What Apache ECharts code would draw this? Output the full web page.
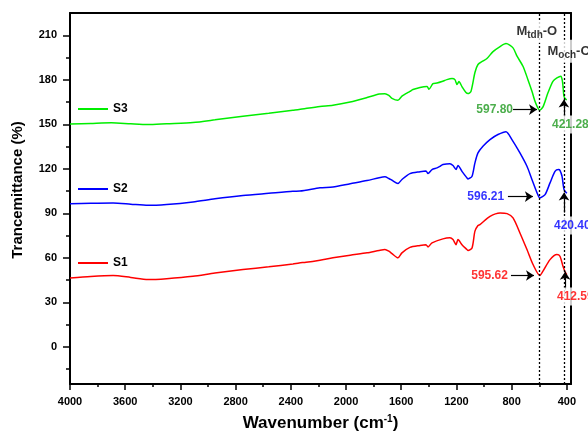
<!DOCTYPE html>
<html>
<head>
<meta charset="utf-8">
<script src="https://cdn.jsdelivr.net/npm/echarts@6/dist/echarts.min.js"></script>
<style>
  html, body { margin: 0; padding: 0; background: #fff; }
  #chart { width: 588px; height: 432px; }
</style>
</head>
<body>
<div id="chart"></div>
<script>
// FTIR spectra: wavenumber (cm-1) and transmittance (%) for each sample
const s3Wave = [4000, 3850, 3700, 3560, 3435, 3300, 3109, 2950, 2747, 2560, 2385, 2340, 2189, 2095, 1970, 1848, 1760, 1718, 1690, 1667, 1624, 1595, 1570, 1537, 1515, 1464, 1413, 1399, 1370, 1341, 1305, 1269, 1232, 1211, 1196, 1182, 1160, 1131, 1116, 1095, 1066, 1044, 1010, 979, 935, 884, 841, 790, 761, 718, 682, 653, 631, 610, 597.8, 573, 537, 501, 472, 443, 432, 428, 421.28, 410, 400];
const s3Trans = [150.2, 150.6, 151.0, 150.3, 149.8, 150.4, 151.2, 153.0, 155.5, 157.5, 159.5, 160.0, 162.0, 162.8, 165.0, 168.0, 170.4, 170.6, 169.5, 167.5, 166.2, 169.0, 170.5, 172.2, 173.4, 174.8, 175.4, 173.6, 177.4, 177.8, 178.8, 180.1, 180.8, 180.1, 176.8, 178.8, 175.4, 171.4, 170.7, 172.1, 184.9, 190.3, 192.5, 194.3, 199.0, 202.4, 204.4, 201.5, 195.9, 189.1, 180.1, 172.3, 165.5, 161.0, 159.5, 161.7, 171.2, 179.0, 181.3, 182.4, 179.0, 175.6, 169.0, 167.0, 166.5];

const s2Wave = [4000, 3850, 3688, 3560, 3435, 3300, 3109, 2950, 2747, 2560, 2385, 2334, 2189, 2095, 1970, 1848, 1760, 1718, 1690, 1667, 1624, 1595, 1537, 1464, 1421, 1406, 1377, 1341, 1319, 1298, 1247, 1225, 1203, 1189, 1160, 1124, 1116, 1087, 1066, 1044, 1008, 957, 899, 841, 798, 740, 689, 653, 616, 596.21, 558, 522, 486, 460, 450, 435, 420.40, 400];
const s2Trans = [96.4, 96.8, 97.0, 96.2, 95.4, 96.0, 97.7, 99.8, 102.0, 103.5, 104.9, 105.0, 107.2, 107.8, 110.0, 112.1, 114.0, 114.6, 113.5, 112.3, 110.1, 112.8, 116.8, 118.1, 118.6, 116.8, 119.5, 120.6, 121.7, 122.9, 123.5, 122.2, 119.5, 122.2, 118.3, 113.9, 113.2, 115.0, 124.0, 130.7, 135.2, 139.7, 143.1, 145.0, 139.7, 130.7, 121.7, 112.8, 103.8, 100.4, 102.6, 110.5, 118.3, 119.5, 119.0, 115.0, 106.0, 103.5];

const s1Wave = [4000, 3850, 3688, 3560, 3435, 3300, 3109, 2950, 2747, 2560, 2385, 2340, 2290, 2189, 2095, 1970, 1848, 1760, 1718, 1690, 1667, 1624, 1595, 1537, 1464, 1421, 1406, 1377, 1298, 1247, 1225, 1203, 1189, 1160, 1124, 1116, 1087, 1066, 1044, 1030, 957, 884, 833, 790, 740, 689, 645, 595.62, 573, 522, 472, 450, 428, 412.59, 400];
const s1Trans = [46.5, 47.5, 48.1, 46.8, 45.4, 46.0, 47.6, 49.8, 52.1, 54.0, 55.9, 56.6, 57.0, 58.4, 60.0, 61.8, 63.4, 65.0, 65.6, 64.5, 62.9, 60.0, 63.4, 67.1, 68.4, 68.9, 67.4, 70.1, 72.8, 73.5, 72.3, 68.9, 72.3, 68.9, 65.6, 64.9, 66.7, 78.0, 81.8, 82.4, 88.0, 90.3, 89.8, 86.9, 76.8, 65.6, 55.5, 48.1, 51.0, 58.8, 62.2, 61.1, 54.3, 50.5, 48.7];

// axis ticks
const xMajorTicks = [4000, 3600, 3200, 2800, 2400, 2000, 1600, 1200, 800, 400];
const xMinorTicks = [3800, 3400, 3000, 2600, 2200, 1800, 1400, 1000, 600];
const yMajorTicks = [0, 30, 60, 90, 120, 150, 180, 210];
const yMinorTicks = [-15, 15, 45, 75, 105, 135, 165, 195];

// band positions (M-O stretching) and the labelled minima
const bandLines = [597, 420];
const minimaLabels = ['597.80', '596.21', '595.62'];
const edgeLabels = ['421.28', '420.40', '412.59'];

// label anchors [wavenumber, transmittance]
const minimaLabelPos = [[790, 159.9], [855, 101.3], [827, 48.1]];
const edgeLabelPos = [[522, 149.8], [508, 81.8], [486, 33.9]];
// horizontal arrows: [startWave, endWave, level]
const minimaArrows = [[790, 616, 159.9], [827, 646, 101.3], [805, 638, 48.1]];
// vertical arrows: [wave, from, to]
const edgeArrows = [[421.28, 154.5, 166.7], [420.40, 90.5, 104.0], [412.59, 38.6, 50.7]];
// band titles: [text, subscript, wave, level]
const bandTitles = [['M', 'tdh', 780, 212.5], ['M', 'och', 555, 199.2]];

const seriesColors = ['#00ee00', '#0000ff', '#ff0000'];
const labelColors = ['#1f9a1f', '#0000ff', '#ff0000'];

const FONT = 'Liberation Sans, Arial, sans-serif';

function pairs(w, t) { return w.map((x, i) => [x, t[i]]); }

const chart = echarts.init(document.getElementById('chart'), null, { renderer: 'canvas' });

const xBase = { type: 'value', min: 370, max: 4000, inverse: true, splitLine: { show: false } };
const yBase = { type: 'value', min: -25, max: 225, splitLine: { show: false } };
const axisLineStyle = { color: '#000', width: 2 };

const annotationData = [];
minimaLabels.forEach((t, i) => annotationData.push({
  value: minimaLabelPos[i],
  label: { formatter: t, color: labelColors[i], align: 'right', verticalAlign: 'middle' }
}));
edgeLabels.forEach((t, i) => annotationData.push({
  value: edgeLabelPos[i],
  label: { formatter: t, color: labelColors[i], align: 'left', verticalAlign: 'middle',
    backgroundColor: '#fff', padding: [3, 2, 3, 2] }
}));
bandTitles.forEach(b => annotationData.push({
  value: [b[2], b[3]],
  label: { formatter: '{m|' + b[0] + '}{s|' + b[1] + '}{m|-O}', align: 'left', verticalAlign: 'middle',
    backgroundColor: '#fff', padding: [3, 2, 3, 2],
    rich: {
      m: { fontSize: 13, fontWeight: 'bold', color: '#000', fontFamily: FONT },
      s: { fontSize: 10, fontWeight: 'bold', color: '#000', fontFamily: FONT, padding: [7, 0, 0, 0] }
    } }
}));

const arrowLines = [];
minimaArrows.forEach(a => arrowLines.push([{ coord: [a[0], a[2]] }, { coord: [a[1], a[2]] }]));
edgeArrows.forEach(a => arrowLines.push([{ coord: [a[0], a[1]] }, { coord: [a[0], a[2]] }]));

const option = {
  animation: false,
  backgroundColor: '#fff',
  textStyle: { fontFamily: FONT },
  grid: { left: 70, right: 17, top: 13, bottom: 48, containLabel: false, outerBoundsMode: 'none' },
  legend: [
    { data: ['S3'], left: 78, top: 103 },
    { data: ['S2'], left: 78, top: 183 },
    { data: ['S1'], left: 78, top: 257 }
  ].map(l => Object.assign(l, {
    icon: 'rect', itemWidth: 30, itemHeight: 2, selectedMode: false, padding: 0,
    textStyle: { color: '#000', fontWeight: 'bold', fontSize: 12, fontFamily: FONT }
  })),
  xAxis: [
    Object.assign({}, xBase, {
      position: 'bottom',
      name: 'Wavenumber (cm{sup|-1})',
      nameLocation: 'middle', nameGap: 30,
      nameTextStyle: { fontSize: 17, fontWeight: 'bold', color: '#000', fontFamily: FONT,
        rich: { sup: { fontSize: 10, fontWeight: 'bold', color: '#000', fontFamily: FONT, padding: [0, 0, 8, 0] } } },
      axisLine: { show: true, onZero: false, lineStyle: axisLineStyle },
      axisTick: { show: true, length: 6, lineStyle: { width: 1.5, color: '#000' }, customValues: xMajorTicks },
      axisLabel: { show: true, color: '#000', fontWeight: 'bold', fontSize: 11, margin: 12,
        customValues: xMajorTicks, formatter: v => String(v) }
    }),
    Object.assign({}, xBase, {
      position: 'bottom',
      axisLine: { show: false, onZero: false },
      axisTick: { show: true, length: 3, lineStyle: { width: 1.5, color: '#000' }, customValues: xMinorTicks },
      axisLabel: { show: false }
    }),
    Object.assign({}, xBase, {
      position: 'top',
      axisLine: { show: true, onZero: false, lineStyle: axisLineStyle },
      axisTick: { show: false }, axisLabel: { show: false }
    })
  ],
  yAxis: [
    Object.assign({}, yBase, {
      position: 'left',
      axisLine: { show: true, onZero: false, lineStyle: axisLineStyle },
      axisTick: { show: true, length: 7, lineStyle: { width: 1.5, color: '#000' }, customValues: yMajorTicks },
      axisLabel: { show: true, color: '#000', fontWeight: 'bold', fontSize: 11, margin: 13, customValues: yMajorTicks }
    }),
    Object.assign({}, yBase, {
      position: 'left',
      axisLine: { show: false, onZero: false },
      axisTick: { show: true, length: 4, lineStyle: { width: 1.5, color: '#000' }, customValues: yMinorTicks },
      axisLabel: { show: false }
    }),
    Object.assign({}, yBase, {
      position: 'right',
      axisLine: { show: true, onZero: false, lineStyle: axisLineStyle },
      axisTick: { show: false }, axisLabel: { show: false }
    })
  ],
  graphic: [{
    type: 'text', x: 18, y: 190, rotation: Math.PI / 2,
    style: { text: 'Trancemittance (%)', fill: '#000', font: 'bold 15px ' + FONT, align: 'center', verticalAlign: 'middle' }
  }],
  series: [
    { name: 'S3', data: pairs(s3Wave, s3Trans), color: seriesColors[0] },
    { name: 'S2', data: pairs(s2Wave, s2Trans), color: seriesColors[1] },
    { name: 'S1', data: pairs(s1Wave, s1Trans), color: seriesColors[2] }
  ].map(s => Object.assign(s, {
    type: 'line', xAxisIndex: 0, yAxisIndex: 0, symbol: 'none', smooth: 0.25,
    lineStyle: { width: 1.5, color: s.color }, z: 3
  })).concat([
    {
      name: 'bands', type: 'line', data: [], xAxisIndex: 0, yAxisIndex: 0, z: 2, silent: true,
      markLine: {
        silent: true, symbol: ['none', 'none'], animation: false,
        label: { show: false },
        lineStyle: { color: '#000', type: [2, 2], width: 1.3 },
        data: bandLines.map(x => ({ xAxis: x }))
      }
    },
    {
      name: 'annotations', type: 'scatter', xAxisIndex: 0, yAxisIndex: 0, z: 10, clip: false,
      symbolSize: 0, silent: true,
      label: { show: true, position: 'inside', fontSize: 12, fontWeight: 'bold', fontFamily: FONT },
      data: annotationData,
      markLine: {
        silent: true, symbol: ['none', 'arrow'], symbolSize: 8, animation: false,
        label: { show: false },
        lineStyle: { color: '#000', type: 'solid', width: 1.2 },
        data: arrowLines
      }
    }
  ])
};

chart.setOption(option);
</script>
</body>
</html>
